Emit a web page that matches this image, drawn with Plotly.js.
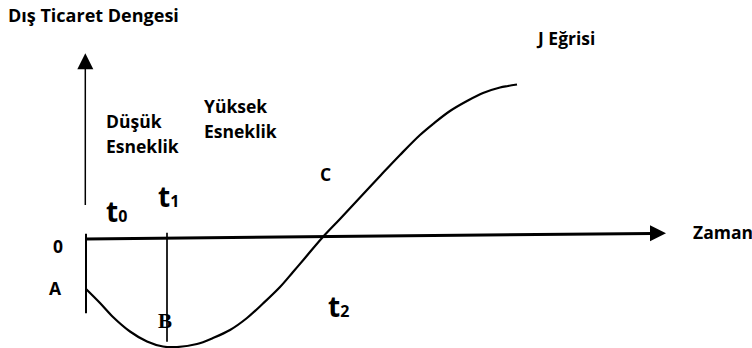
<!DOCTYPE html>
<html><head><meta charset="utf-8">
<script src="https://cdn.plot.ly/plotly-3.0.1.min.js"></script>
<style>html,body{margin:0;padding:0;background:#fff;} #chart{width:752px;height:348px;}</style>
</head><body><div id="chart"></div>
<script>
// J Eğrisi: zaman (t) ve dış ticaret dengesi (b)
const time    = [0, 1.4, 2.7, 4.4, 6.1, 7.7, 9.1, 11.1, 12.7, 14.4, 16.1, 17.7, 19.4, 20.7, 21.9, 23.6, 25.4, 27.4, 29.5, 31.4, 33.4, 34.7, 36.4, 38.1, 39.7, 41.4, 42.2, 43.1];
const balance = [-5.0, -6.4, -7.8, -9.25, -10.25, -10.75, -10.8, -10.5, -9.9, -9.1, -7.9, -6.45, -4.8, -3.3, -1.9, 0.1, 2.0, 4.15, 6.4, 8.4, 10.4, 11.5, 12.8, 13.8, 14.6, 15.15, 15.3, 15.45];

// eksen okları: [başlangıç, uç]
const timeAxisX = [0, 58];
const timeAxisY = [0, 0.57];
const balanceAxisX = [-0.07, -0.07];
const balanceAxisY = [3.4, 18.57];

// dikey işaret çizgileri (t0, t1)
const markerTimes = [0, 8.1];
const markerTops = [0.53, 0.63];
const markerBottoms = [-7.43, -10.27];

// metinler
const axisTitleY = 'Dış Ticaret Dengesi';
const axisTitleX = 'Zaman';
const curveName = 'J Eğrisi';
const pointLabels = ['0', 'A', 'B', 'C'];
const timeSubs = ['0', '1', '2'];
const phaseLabels = [['Düşük', 'Esneklik'], ['Yüksek', 'Esneklik']];

const FONT = '"Open Sans", Lato, sans-serif';
const lbl = (text, x, y, size, family) => ({
  text, x, y, xref: 'x', yref: 'y', xanchor: 'left', yanchor: 'middle',
  showarrow: false, font: {family: family || FONT, size: size || 17.5, color: '#000', weight: 'bold'}
});
const tLabel = (i) => 't<span style="font-size:16px">' + timeSubs[i] + '</span>';

const traces = [
  {x: time, y: balance, mode: 'lines', line: {color: '#000', width: 2.2, shape: 'spline'}, hoverinfo: 'skip', cliponaxis: false}
];
markerTimes.forEach((t, i) => {
  traces.push({x: [t, t], y: [markerTops[i], markerBottoms[i]], mode: 'lines',
    line: {color: '#000', width: i === 0 ? 2 : 1.7}, hoverinfo: 'skip', cliponaxis: false});
});
// yatay eksen (Zaman) ve dikey eksen, ok uçlarıyla
traces.push({x: [timeAxisX[0], timeAxisX[1] - 1.4], y: [timeAxisY[0], timeAxisY[0] + (timeAxisY[1] - timeAxisY[0]) * (timeAxisX[1] - 1.4) / timeAxisX[1]],
  mode: 'lines', line: {color: '#000', width: 3}, hoverinfo: 'skip', cliponaxis: false});
traces.push({x: [timeAxisX[1]], y: [timeAxisY[1]], mode: 'markers',
  marker: {symbol: 'arrow-right', size: 16, color: '#000', line: {width: 0}}, hoverinfo: 'skip', cliponaxis: false});
traces.push({x: balanceAxisX, y: [balanceAxisY[0], balanceAxisY[1] - 1.4], mode: 'lines',
  line: {color: '#000', width: 1.5}, hoverinfo: 'skip', cliponaxis: false});
traces.push({x: [balanceAxisX[1]], y: [balanceAxisY[1]], mode: 'markers',
  marker: {symbol: 'arrow-up', size: 16, color: '#000', line: {width: 0}}, hoverinfo: 'skip', cliponaxis: false});

const annotations = [
  lbl(axisTitleY, -7.97, 22.4, 18),
  lbl(curveName, 44.8, 20.11),
  lbl(phaseLabels[0][0], 1.8, 11.81),
  lbl(phaseLabels[0][1], 1.8, 9.35),
  lbl(phaseLabels[1][0], 11.63, 13.27),
  lbl(phaseLabels[1][1], 11.63, 10.83),
  lbl(pointLabels[3], 23.2, 6.5),
  lbl(pointLabels[0], -3.47, -0.65),
  lbl(pointLabels[1], -3.87, -4.9),
  lbl(pointLabels[2], 6.97, -8.2, 21, '"Liberation Serif", "DejaVu Serif", serif'),
  lbl(axisTitleX, 60.47, 0.7),
  lbl(tLabel(0), 1.77, 2.82, 28),
  lbl(tLabel(1), 7.03, 4.26, 28),
  lbl(tLabel(2), 24.03, -6.74, 28)
];

const layout = {
  width: 752, height: 348, autosize: false,
  margin: {l: 0, r: 0, t: 0, b: 0, pad: 0},
  paper_bgcolor: '#fff', plot_bgcolor: '#fff',
  showlegend: false,
  xaxis: {range: [-8.6, 66.6], visible: false, fixedrange: true},
  yaxis: {range: [-10.9, 23.9], visible: false, fixedrange: true},
  annotations
};
Plotly.newPlot('chart', traces, layout, {displayModeBar: false, staticPlot: true});
</script>
</body></html>
